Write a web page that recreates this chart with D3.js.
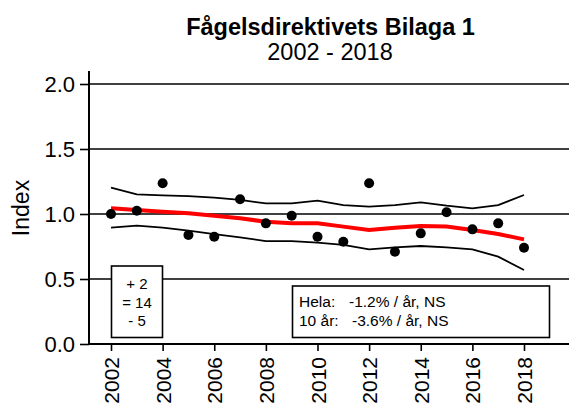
<!DOCTYPE html>
<html>
<head>
<meta charset="utf-8">
<script src="https://cdn.jsdelivr.net/npm/d3@7"></script>
<style>
  html, body { margin: 0; padding: 0; background: #fff; }
  svg { display: block; font-family: 'Liberation Sans', Arial, sans-serif; }
</style>
</head>
<body>
<svg id="chart" width="569" height="412"></svg>
<script>
const years = [2002, 2003, 2004, 2005, 2006, 2007, 2008, 2009, 2010, 2011, 2012, 2013, 2014, 2015, 2016, 2017, 2018]
const indexValues = [1.00, 1.025, 1.236, 0.838, 0.825, 1.113, 0.928, 0.987, 0.825, 0.787, 1.236, 0.71, 0.851, 1.013, 0.882, 0.928, 0.74]
const trendValues = [1.044, 1.031, 1.018, 1.005, 0.987, 0.967, 0.941, 0.928, 0.928, 0.903, 0.877, 0.895, 0.908, 0.903, 0.877, 0.846, 0.805]
const upperValues = [1.202, 1.151, 1.144, 1.138, 1.126, 1.108, 1.082, 1.082, 1.103, 1.069, 1.056, 1.069, 1.09, 1.064, 1.044, 1.069, 1.146]
const lowerValues = [0.895, 0.910, 0.895, 0.872, 0.846, 0.821, 0.792, 0.792, 0.780, 0.762, 0.728, 0.744, 0.754, 0.744, 0.728, 0.672, 0.569]
const yTicks = [0, 0.5, 1.0, 1.5, 2.0]
const xTicks = [2002, 2004, 2006, 2008, 2010, 2012, 2014, 2016, 2018]
const countLines = ['+ 2', '= 14', '- 5']
const trendLabels = ['Hela:', '10 år:']
const trendTexts = ['-1.2% / år, NS', '-3.6% / år, NS']

const svg = d3.select('#chart')
const x = d3.scaleLinear().domain([2002, 2018]).range([111, 524])
const y = d3.scaleLinear().domain([0, 2]).range([344, 84])

// title
svg.append('text')
  .attr('x', 330.5).attr('y', 35)
  .attr('text-anchor', 'middle')
  .style('font-weight', 'bold').style('font-size', '23.5px')
  .text('Fågelsdirektivets Bilaga 1')
svg.append('text')
  .attr('x', 330).attr('y', 60)
  .attr('text-anchor', 'middle')
  .style('font-size', '23.5px')
  .text('2002 - 2018')

// gridlines
svg.append('g')
  .selectAll('line')
  .data(yTicks.filter(d => d > 0))
  .enter()
  .append('line')
  .attr('x1', 89).attr('x2', 569)
  .attr('y1', d => y(d)).attr('y2', d => y(d))
  .attr('stroke', '#000').attr('stroke-width', 1.6)

// y axis
const yAxis = svg.append('g')
  .attr('transform', 'translate(89,0)')
  .call(d3.axisLeft(y).tickValues(yTicks).tickFormat(d3.format('.1f')).tickSize(9).tickPadding(5))
yAxis.select('.domain').attr('d', `M0,71V${y(0)}`).attr('stroke-width', 2)
yAxis.selectAll('.tick line').attr('stroke-width', 1.6)
yAxis.selectAll('.tick text').style('font-size', '22px').attr('fill', '#000').attr('font-family', null)

// x axis
const xAxis = svg.append('g')
  .attr('transform', `translate(0,${y(0)})`)
  .call(d3.axisBottom(x).tickValues(xTicks).tickFormat(d3.format('d')).tickSize(7).tickSizeOuter(0))
xAxis.select('.domain').attr('d', 'M89,0H569').attr('stroke-width', 2)
xAxis.selectAll('.tick line').attr('stroke-width', 1.6)
xAxis.selectAll('.tick text')
  .style('font-size', '21px').attr('fill', '#000').attr('font-family', null)
  .attr('text-anchor', 'end')
  .attr('transform', 'rotate(-90)')
  .attr('x', -13).attr('y', 0).attr('dy', '0.36em')

// y label
svg.append('text')
  .attr('transform', 'translate(29,208) rotate(-90)')
  .attr('text-anchor', 'middle')
  .style('font-size', '23px')
  .text('Index')

// confidence lines
const line = d3.line().x((d, i) => x(years[i])).y(d => y(d))
svg.append('path').datum(upperValues).attr('d', line)
  .attr('fill', 'none').attr('stroke', '#000').attr('stroke-width', 1.8)
svg.append('path').datum(lowerValues).attr('d', line)
  .attr('fill', 'none').attr('stroke', '#000').attr('stroke-width', 1.8)

// trend
svg.append('path').datum(trendValues).attr('d', line)
  .attr('fill', 'none').attr('stroke', '#ff0000').attr('stroke-width', 4)

// points
svg.append('g')
  .selectAll('circle')
  .data(indexValues)
  .enter()
  .append('circle')
  .attr('cx', (d, i) => x(years[i]))
  .attr('cy', d => y(d))
  .attr('r', 5)
  .attr('fill', '#000')

// count box
svg.append('rect')
  .attr('x', 111.5).attr('y', 266).attr('width', 51).attr('height', 71.5)
  .attr('fill', '#fff').attr('stroke', '#000').attr('stroke-width', 1.6)
svg.append('g')
  .selectAll('text')
  .data(countLines)
  .enter()
  .append('text')
  .attr('x', 137).attr('y', (d, i) => 289 + i * 18.5)
  .attr('text-anchor', 'middle')
  .style('font-size', '15px')
  .text(d => d)

// trend box
svg.append('rect')
  .attr('x', 292.5).attr('y', 286).attr('width', 257).attr('height', 51.5)
  .attr('fill', '#fff').attr('stroke', '#000').attr('stroke-width', 1.6)
const trendRows = svg.append('g')
  .selectAll('g')
  .data(trendLabels)
  .enter()
  .append('g')
trendRows.append('text')
  .attr('x', 299).attr('y', (d, i) => 307 + i * 19)
  .style('font-size', '15.5px')
  .text(d => d)
trendRows.append('text')
  .attr('x', (d, i) => i === 0 ? 349 : 352).attr('y', (d, i) => 307 + i * 19)
  .style('font-size', '15.5px')
  .text((d, i) => trendTexts[i])
</script>
</body>
</html>
